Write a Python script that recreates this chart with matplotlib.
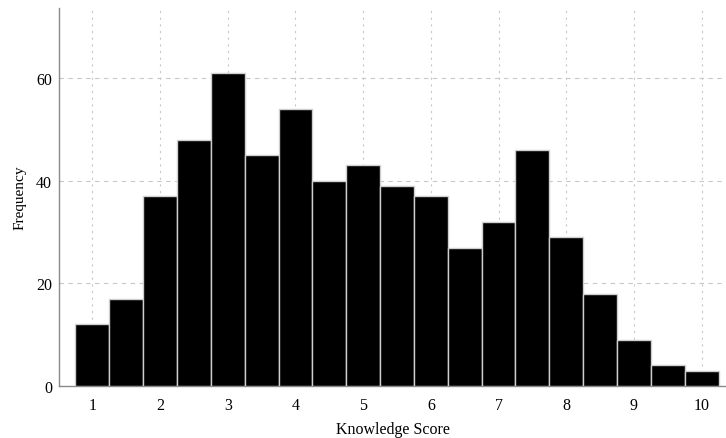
import numpy as np
from matplotlib import pyplot as plt

# histogram of knowledge scores (bin width 0.5)
bin_centers = [1, 1.5, 2, 2.5, 3, 3.5, 4, 4.5, 5, 5.5, 6, 6.5, 7, 7.5, 8, 8.5, 9, 9.5, 10]
frequency = [12, 17, 37, 48, 61, 45, 54, 40, 43, 39, 37, 27, 32, 46, 29, 18, 9, 4, 3]
x_ticks = [1, 2, 3, 4, 5, 6, 7, 8, 9, 10]
y_ticks = [0, 20, 40, 60]

plt.rcParams['font.family'] = ['Liberation Serif', 'DejaVu Serif']

fig = plt.figure(figsize=(7.26, 4.39), dpi=100)
ax = fig.add_axes([0.0813, 0.1185, 0.9187, 0.861])

ax.bar(bin_centers, frequency, width=0.5, color='black', edgecolor='#cfcfcf', linewidth=1.0, zorder=3)

ax.set_xlim(0.508, 10.36)
ax.set_ylim(0, 73.7)
ax.set_xticks(x_ticks)
ax.set_yticks(y_ticks)
ax.tick_params(axis='x', length=0, labelsize=11.5, pad=8)
ax.tick_params(axis='y', length=0, labelsize=11.5, pad=5)

########grid
ax.xaxis.grid(True, linestyle=(0, (2, 4)), color='#c8c8c8', linewidth=0.8, zorder=0)
ax.yaxis.grid(True, linestyle=(0, (4, 4)), color='#c8c8c8', linewidth=0.8, zorder=0)
ax.set_axisbelow(True)

for s in ['top', 'right']:
	ax.spines[s].set_visible(False)
for s in ['left', 'bottom']:
	ax.spines[s].set_color('#8a8a8a')
	ax.spines[s].set_linewidth(1.0)

ax.set_xlabel("Knowledge Score", fontsize=11.5, labelpad=6)
ax.set_ylabel("Frequency", fontsize=11, labelpad=7)

fig.savefig("out.png", dpi=100)
